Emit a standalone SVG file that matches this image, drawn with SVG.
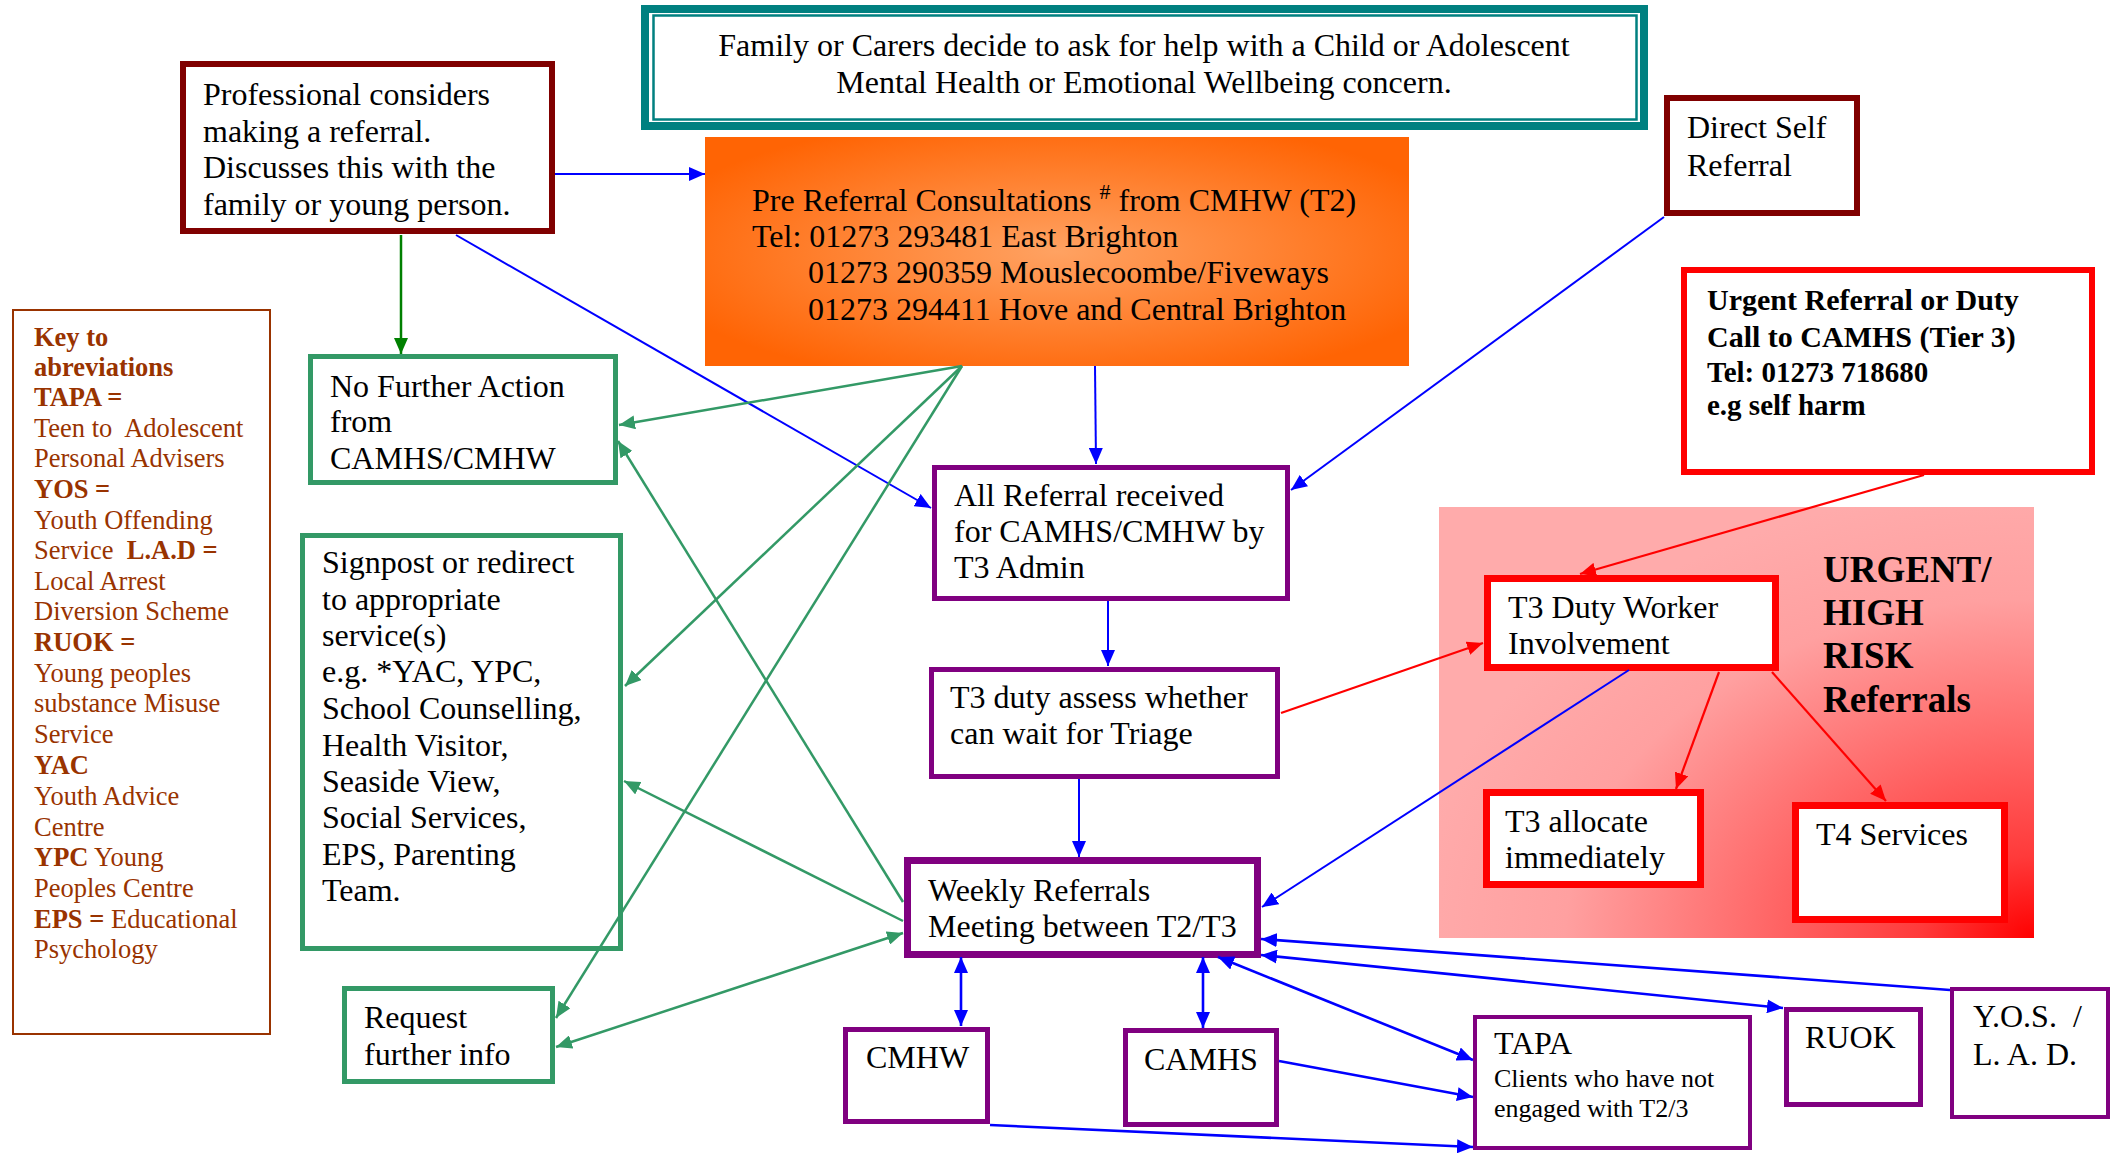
<svg xmlns="http://www.w3.org/2000/svg" width="2121" height="1154" viewBox="0 0 2121 1154">
<defs>
<style>
text{font-family:"Liberation Serif","Times New Roman",serif;font-size:32px;fill:#000}
.key{font-size:26.5px;fill:#993300}
.b{font-weight:bold}
.box{fill:#fff}
.dred{stroke:#800000;stroke-width:6}
.grn{stroke:#339966;stroke-width:5}
.pur{stroke:#800080;stroke-width:5}
.red{stroke:#FF0000;stroke-width:7}
.cb{fill:none;stroke:#0000FF;stroke-width:2}
.cb3{fill:none;stroke:#0000FF;stroke-width:2.6}
.cg{fill:none;stroke:#339966;stroke-width:2.5}
.cdg{fill:none;stroke:#008000;stroke-width:2.5}
.cr{fill:none;stroke:#FF0000;stroke-width:2.2}
</style>
<marker id="ab" markerUnits="userSpaceOnUse" markerWidth="16" markerHeight="14" refX="16" refY="7" orient="auto-start-reverse"><path d="M0,0 L16,7 L0,14 z" fill="#0000FF"/></marker>
<marker id="ag" markerUnits="userSpaceOnUse" markerWidth="16" markerHeight="14" refX="16" refY="7" orient="auto-start-reverse"><path d="M0,0 L16,7 L0,14 z" fill="#339966"/></marker>
<marker id="adg" markerUnits="userSpaceOnUse" markerWidth="16" markerHeight="14" refX="16" refY="7" orient="auto-start-reverse"><path d="M0,0 L16,7 L0,14 z" fill="#008000"/></marker>
<marker id="ar" markerUnits="userSpaceOnUse" markerWidth="16" markerHeight="14" refX="16" refY="7" orient="auto-start-reverse"><path d="M0,0 L16,7 L0,14 z" fill="#FF0000"/></marker>
<radialGradient id="gOrange" cx="0.5" cy="0.5" r="0.6">
<stop offset="0" stop-color="#FFA262"/>
<stop offset="1" stop-color="#FF6404"/>
</radialGradient>
<radialGradient id="gPink" cx="1" cy="1" r="1.05">
<stop offset="0" stop-color="#FF0000"/>
<stop offset="0.18" stop-color="#FF3A3A"/>
<stop offset="0.45" stop-color="#FF6B6B"/>
<stop offset="0.75" stop-color="#FFA0A0"/>
<stop offset="1" stop-color="#FFABAB"/>
</radialGradient>
</defs>
<rect width="2121" height="1154" fill="#fff"/>

<g id="urgent-area">
<rect x="1439" y="507" width="595" height="431" fill="url(#gPink)"/>
<text x="1823" y="582" class="b" style="font-size:37px">URGENT/</text>
<text x="1823" y="625" class="b" style="font-size:37px">HIGH</text>
<text x="1823" y="668" class="b" style="font-size:37px">RISK</text>
<text x="1823" y="712" class="b" style="font-size:37px">Referrals</text>
</g>

<g id="family">
<rect x="645" y="9" width="999" height="117" fill="#fff" stroke="#008080" stroke-width="8"/>
<rect x="653.5" y="15.5" width="983" height="104" fill="none" stroke="#008080" stroke-width="2.5"/>
<text x="1144" y="56" text-anchor="middle">Family or Carers decide to ask for help with a Child or Adolescent</text>
<text x="1144" y="93" text-anchor="middle">Mental Health or Emotional Wellbeing concern.</text>
</g>

<g id="professional">
<rect x="183" y="64" width="369" height="167" class="box dred"/>
<text x="203" y="105">Professional considers</text>
<text x="203" y="142">making a referral.</text>
<text x="203" y="178">Discusses this with the</text>
<text x="203" y="215">family or young person.</text>
</g>

<g id="pre-referral">
<rect x="705" y="137" width="704" height="229" fill="url(#gOrange)"/>
<text x="752" y="211">Pre Referral Consultations <tspan style="font-size:22px" dy="-12">#</tspan><tspan dy="12"> from CMHW (T2)</tspan></text>
<text x="752" y="247">Tel: 01273 293481 East Brighton</text>
<text x="808" y="283">01273 290359 Mouslecoombe/Fiveways</text>
<text x="808" y="320">01273 294411 Hove and Central Brighton</text>
</g>

<g id="direct-self">
<rect x="1667" y="98" width="190" height="115" class="box dred"/>
<text x="1687" y="138">Direct Self</text>
<text x="1687" y="176">Referral</text>
</g>

<g id="urgent-referral">
<rect x="1684" y="270" width="408" height="202" class="box" stroke="#FF0000" stroke-width="6"/>
<text x="1707" y="310" class="b" style="font-size:30px">Urgent Referral or Duty</text>
<text x="1707" y="347" class="b" style="font-size:30px">Call to CAMHS (Tier 3)</text>
<text x="1707" y="382" class="b" style="font-size:29px">Tel: 01273 718680</text>
<text x="1707" y="415" class="b" style="font-size:29px">e.g self harm</text>
</g>

<g id="key">
<rect x="13" y="310" width="257" height="724" fill="#fff" stroke="#993300" stroke-width="2"/>
<text x="34" y="346" class="key b">Key to</text>
<text x="34" y="376" class="key b">abreviations</text>
<text x="34" y="406" class="key b">TAPA =</text>
<text x="34" y="437" class="key">Teen to&#160; Adolescent</text>
<text x="34" y="467" class="key">Personal Advisers</text>
<text x="34" y="498" class="key b">YOS =</text>
<text x="34" y="529" class="key">Youth Offending</text>
<text x="34" y="559" class="key">Service&#160; <tspan class="b">L.A.D =</tspan></text>
<text x="34" y="590" class="key">Local Arrest</text>
<text x="34" y="620" class="key">Diversion Scheme</text>
<text x="34" y="651" class="key b">RUOK =</text>
<text x="34" y="682" class="key">Young peoples</text>
<text x="34" y="712" class="key">substance Misuse</text>
<text x="34" y="743" class="key">Service</text>
<text x="34" y="774" class="key b">YAC</text>
<text x="34" y="805" class="key">Youth Advice</text>
<text x="34" y="836" class="key">Centre</text>
<text x="34" y="866" class="key"><tspan class="b">YPC</tspan> Young</text>
<text x="34" y="897" class="key">Peoples Centre</text>
<text x="34" y="928" class="key"><tspan class="b">EPS =</tspan> Educational</text>
<text x="34" y="958" class="key">Psychology</text>
</g>

<g id="no-further-action">
<rect x="310.5" y="356.5" width="305" height="126" class="box grn"/>
<text x="330" y="397">No Further Action</text>
<text x="330" y="432">from</text>
<text x="330" y="469">CAMHS/CMHW</text>
</g>

<g id="signpost">
<rect x="302.5" y="535.5" width="318" height="413" class="box grn"/>
<text x="322" y="573">Signpost or redirect</text>
<text x="322" y="610">to appropriate</text>
<text x="322" y="646">service(s)</text>
<text x="322" y="682">e.g. *YAC, YPC,</text>
<text x="322" y="719">School Counselling,</text>
<text x="322" y="756">Health Visitor,</text>
<text x="322" y="792">Seaside View,</text>
<text x="322" y="828">Social Services,</text>
<text x="322" y="865">EPS, Parenting</text>
<text x="322" y="901">Team.</text>
</g>

<g id="request-info">
<rect x="344.5" y="988.5" width="208" height="93" class="box grn"/>
<text x="364" y="1028">Request</text>
<text x="364" y="1065">further info</text>
</g>

<g id="all-referral">
<rect x="934.5" y="467.5" width="353" height="131" class="box pur"/>
<text x="954" y="506">All Referral received</text>
<text x="954" y="542">for CAMHS/CMHW by</text>
<text x="954" y="578">T3 Admin</text>
</g>

<g id="t3-duty-assess">
<rect x="931.5" y="669.5" width="346" height="107" class="box pur"/>
<text x="950" y="708">T3 duty assess whether</text>
<text x="950" y="744">can wait for Triage</text>
</g>

<g id="weekly">
<rect x="907.5" y="860.5" width="350" height="94" class="box" stroke="#800080" stroke-width="7"/>
<text x="928" y="901">Weekly Referrals</text>
<text x="928" y="937">Meeting between T2/T3</text>
</g>

<g id="t3-duty-worker">
<rect x="1487.5" y="578.5" width="288" height="89" class="box red"/>
<text x="1508" y="618">T3 Duty Worker</text>
<text x="1508" y="654">Involvement</text>
</g>

<g id="t3-allocate">
<rect x="1486.5" y="792.5" width="214" height="92" class="box red"/>
<text x="1505" y="832">T3 allocate</text>
<text x="1505" y="868">immediately</text>
</g>

<g id="t4-services">
<rect x="1795.5" y="805.5" width="209" height="114" class="box red"/>
<text x="1816" y="845">T4 Services</text>
</g>

<g id="cmhw">
<rect x="845.5" y="1029.5" width="142" height="92" class="box pur"/>
<text x="866" y="1068">CMHW</text>
</g>

<g id="camhs">
<rect x="1125.5" y="1030.5" width="151" height="94" class="box pur"/>
<text x="1144" y="1070">CAMHS</text>
</g>

<g id="tapa">
<rect x="1475" y="1017" width="275" height="131" class="box" stroke="#800080" stroke-width="4"/>
<text x="1494" y="1054">TAPA</text>
<text x="1494" y="1087" style="font-size:26px">Clients who have not</text>
<text x="1494" y="1117" style="font-size:26px">engaged with T2/3</text>
</g>

<g id="ruok">
<rect x="1786.5" y="1009.5" width="134" height="95" class="box pur"/>
<text x="1805" y="1048">RUOK</text>
</g>

<g id="yos">
<rect x="1952" y="989" width="156" height="128" class="box" stroke="#800080" stroke-width="4"/>
<text x="1973" y="1027" xml:space="preserve">Y.O.S.  /</text>
<text x="1973" y="1065">L. A. D.</text>
</g>

<g id="connectors">
<path class="cb" d="M555,174 L705,174" marker-end="url(#ab)"/>
<path class="cdg" d="M401,235 L401,354" marker-end="url(#adg)"/>
<path class="cb" d="M456,235 L931,508" marker-end="url(#ab)"/>
<path class="cb" d="M1095,366 L1096,464" marker-end="url(#ab)"/>
<path class="cb" d="M1664,217 L1291,490" marker-end="url(#ab)"/>
<path class="cg" d="M962,366 L619,425" marker-end="url(#ag)"/>
<path class="cg" d="M962,366 L625,686" marker-end="url(#ag)"/>
<path class="cg" d="M962,366 L556,1018" marker-end="url(#ag)"/>
<path class="cg" d="M903,902 L618,441" marker-end="url(#ag)"/>
<path class="cg" d="M903,921 L624,781" marker-end="url(#ag)"/>
<path class="cg" d="M556,1047 L903,933" marker-start="url(#ag)" marker-end="url(#ag)"/>
<path class="cb" d="M1108,601 L1108,666" marker-end="url(#ab)"/>
<path class="cb" d="M1079,779 L1079,857" marker-end="url(#ab)"/>
<path class="cr" d="M1281,713 L1483,643" marker-end="url(#ar)"/>
<path class="cr" d="M1924,475 L1580,574" marker-end="url(#ar)"/>
<path class="cr" d="M1719,672 L1676,789" marker-end="url(#ar)"/>
<path class="cr" d="M1772,672 L1886,801" marker-end="url(#ar)"/>
<path class="cb" d="M1629,670 L1262,907" marker-end="url(#ab)"/>
<path class="cb3" d="M961,957 L961,1026" marker-start="url(#ab)" marker-end="url(#ab)"/>
<path class="cb3" d="M1203,957 L1203,1028" marker-start="url(#ab)" marker-end="url(#ab)"/>
<path class="cb3" d="M1218,957 L1473,1060" marker-start="url(#ab)" marker-end="url(#ab)"/>
<path class="cb3" d="M1279,1061 L1473,1097" marker-end="url(#ab)"/>
<path class="cb3" d="M990,1125 L1473,1147" marker-end="url(#ab)"/>
<path class="cb3" d="M1261,955 L1783,1008" marker-start="url(#ab)" marker-end="url(#ab)"/>
<path class="cb3" d="M1950,990 L1261,939" marker-end="url(#ab)"/>
</g>
</svg>
